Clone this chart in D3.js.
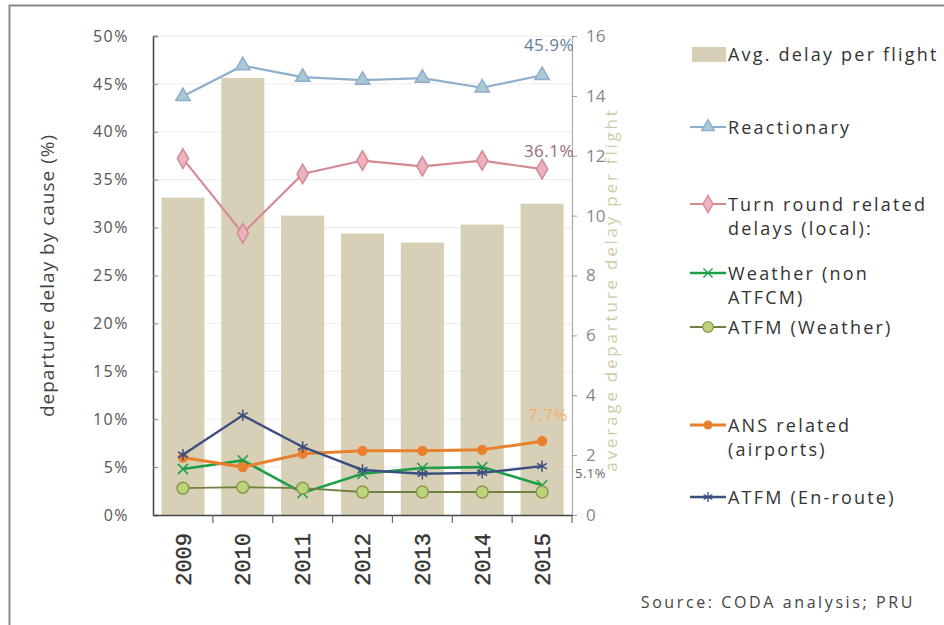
<!DOCTYPE html>
<html><head><meta charset="utf-8">
<script src="https://cdn.jsdelivr.net/npm/d3@7"></script>
<style>body{margin:0;background:#fff}svg{display:block}</style>
</head><body>
<svg id="c" width="944" height="625"></svg>
<script>
const years = ["2009","2010","2011","2012","2013","2014","2015"];
const avgDelay = [10.6, 14.6, 10.0, 9.4, 9.1, 9.7, 10.4];
const reactionary = [43.7, 46.9, 45.7, 45.4, 45.6, 44.6, 45.9];
const turnRound = [37.2, 29.4, 35.6, 37.0, 36.4, 37.0, 36.1];
const weatherNonATFCM = [4.8, 5.7, 2.3, 4.3, 4.9, 5.0, 3.1];
const atfmWeather = [2.8, 2.9, 2.8, 2.4, 2.4, 2.4, 2.4];
const ansAirports = [6.0, 5.0, 6.4, 6.7, 6.7, 6.8, 7.7];
const atfmEnroute = [6.3, 10.4, 7.1, 4.7, 4.3, 4.4, 5.1];
const leftTicks = [0,5,10,15,20,25,30,35,40,45,50];
const rightTicks = [0,2,4,6,8,10,12,14,16];

const svg = d3.select("#c");
const font = "'Open Sans', 'Liberation Sans', sans-serif";
// frame
svg.append("rect").attr("x",9.5).attr("y",5.5).attr("width",960).attr("height",700)
  .attr("fill","none").attr("stroke","#8a8a8a").attr("stroke-width",2);

const L = 153, R = 572, T = 36, B = 515;
const x = d3.scaleBand().domain(years).range([L,R]).padding(0);
const yL = d3.scaleLinear().domain([0,50]).range([B,T]);
const yR = d3.scaleLinear().domain([0,16]).range([B,T]);

// gridlines
svg.append("g").selectAll("line").data(leftTicks.slice(1)).join("line")
  .attr("x1",L).attr("x2",R).attr("y1",d=>yL(d)).attr("y2",d=>yL(d))
  .attr("stroke","#ececec").attr("stroke-width",1);

// bars
const bw = x.bandwidth()*0.72;
svg.append("g").selectAll("rect").data(avgDelay).join("rect")
  .attr("x",(d,i)=>x(years[i])+x.bandwidth()/2-bw/2)
  .attr("y",d=>yR(d)).attr("width",bw).attr("height",d=>B-yR(d))
  .attr("fill","#d8d0b6");

// axes
const axL = svg.append("g").attr("transform",`translate(${L},0)`)
  .call(d3.axisLeft(yL).tickValues(leftTicks).tickFormat(d=>d+"%").tickSize(-5).tickPadding(24));
axL.select(".domain").attr("stroke","#444").attr("stroke-width",1.5);
axL.selectAll(".tick line").attr("stroke","#888");
axL.selectAll("text").attr("font-family",font).attr("font-size",16).attr("letter-spacing",1.5).attr("fill","#555");

const axR = svg.append("g").attr("transform",`translate(${R},0)`)
  .call(d3.axisRight(yR).tickValues(rightTicks).tickSize(5).tickPadding(9));
axR.select(".domain").attr("stroke","#aaa").attr("stroke-width",1.2);
axR.selectAll(".tick line").attr("stroke","#999");
axR.selectAll("text").attr("font-family",font).attr("font-size",17).attr("fill","#888");

const axB = svg.append("g").attr("transform",`translate(0,${B})`)
  .call(d3.axisBottom(x).tickSize(0).tickPadding(0));
axB.select(".domain").attr("stroke","#444").attr("stroke-width",1.5);
axB.selectAll("text").attr("font-family","'Liberation Mono', monospace").attr("font-size",22)
  .attr("fill","#333").attr("stroke","#333").attr("stroke-width",0.4)
  .attr("transform","rotate(-90)").attr("text-anchor","end").attr("dy","0.35em").attr("x",-18).attr("y",0);
// boundary ticks
svg.append("g").selectAll("line").data(years.slice(1).concat(["end"])).join("line")
  .attr("x1",d=>d==="end"?R:x(d)).attr("x2",d=>d==="end"?R:x(d)).attr("y1",B).attr("y2",B+8)
  .attr("stroke","#666").attr("stroke-width",1.2);

// axis titles
svg.append("text").attr("transform",`translate(54,${(T+B)/2}) rotate(-90)`)
  .attr("text-anchor","middle").attr("font-family",font).attr("font-size",19).attr("letter-spacing",1)
  .attr("fill","#444").text("departure delay by cause (%)");
svg.append("text").attr("transform",`translate(617,${(T+B)/2+14}) rotate(-90)`)
  .attr("text-anchor","middle").attr("font-family",font).attr("font-size",17).attr("letter-spacing",2.8)
  .attr("fill","#d2caa8").text("average departure delay per flight");

const sym = (t)=> t || d3.symbolCross;
const series = [
  {name:["Reactionary"], data:reactionary, color:"#8eaecb", mfill:"#aac8d4", mstroke:"#8eaecb", sym:d3.symbolTriangle, size:90, width:2.2},
  {name:["Turn round related","delays (local):"], data:turnRound, color:"#d48a92", mfill:"#ecb2c0", mstroke:"#d48a92", sym:d3.symbolDiamond, size:110, width:2.2},
  {name:["Weather (non","ATFCM)"], data:weatherNonATFCM, color:"#1f9e48", mfill:"none", mstroke:"#1f9e48", sym:sym(d3.symbolX), size:70, width:2.6},
  {name:["ATFM (Weather)"], data:atfmWeather, color:"#6f8040", mfill:"#bcd47a", mstroke:"#8a9a50", sym:d3.symbolCircle, size:110, width:1.8},
  {name:["ANS related","(airports)"], data:ansAirports, color:"#e8802e", mfill:"#e8802e", mstroke:"#e8802e", sym:d3.symbolCircle, size:60, width:3},
  {name:["ATFM (En-route)"], data:atfmEnroute, color:"#3b4f80", mfill:"none", mstroke:"#3b4f80", sym:sym(d3.symbolAsterisk), size:90, width:2.4},
];
const line = d3.line().x((d,i)=>x(years[i])+x.bandwidth()/2).y(d=>yL(d));
series.forEach(s=>{
  const g = svg.append("g");
  g.append("path").attr("d",line(s.data)).attr("fill","none").attr("stroke",s.color).attr("stroke-width",s.width);
  g.selectAll("path.m").data(s.data).join("path").attr("class","m")
    .attr("transform",(d,i)=>`translate(${x(years[i])+x.bandwidth()/2},${yL(d)})`)
    .attr("d",d3.symbol().type(s.sym).size(s.size))
    .attr("fill",s.mfill).attr("stroke",s.mstroke).attr("stroke-width",1.5);
});

// data labels
const lbl = (txt,xx,yy,col,fs,anchor)=>svg.append("text").attr("x",xx).attr("y",yy).attr("font-family",font)
  .attr("font-size",fs||17).attr("letter-spacing",0.5).attr("fill",col).attr("text-anchor",anchor||"end").text(txt);
const xl = x("2015")+x.bandwidth()/2;
lbl(reactionary[6].toFixed(1)+"%", xl+32, yL(reactionary[6])-24, "#5f7f9e");
lbl(turnRound[6].toFixed(1)+"%", xl+32, yL(turnRound[6])-12, "#9a6d72");
lbl(ansAirports[6].toFixed(1)+"%", xl+26, yL(ansAirports[6])-20, "#f0b070");
lbl(atfmEnroute[6].toFixed(1)+"%", R+3, yL(atfmEnroute[6])+12, "#666", 13, "start");

// legend
const lg = svg.append("g").attr("font-family",font).attr("font-size",18).attr("letter-spacing",2.2).attr("fill","#333");
lg.append("rect").attr("x",692).attr("y",47).attr("width",34).attr("height",15).attr("fill","#d8d0b6");
lg.append("text").attr("x",728).attr("y",61).text("Avg. delay per flight");
const ly = [127, 204, 273, 327, 425, 497];
series.forEach((s,k)=>{
  const y0 = ly[k];
  lg.append("line").attr("x1",690).attr("x2",726).attr("y1",y0).attr("y2",y0).attr("stroke",s.color).attr("stroke-width",s.width);
  lg.append("path").attr("transform",`translate(708,${y0})`).attr("d",d3.symbol().type(s.sym).size(s.size*0.8))
    .attr("fill",s.mfill).attr("stroke",s.mstroke).attr("stroke-width",1.3);
  s.name.forEach((n,j)=>lg.append("text").attr("x",728).attr("y",y0+7+j*24).text(n));
});
svg.append("text").attr("x",915).attr("y",608).attr("text-anchor","end").attr("font-family",font)
  .attr("font-size",16).attr("letter-spacing",2.6).attr("fill","#444").text("Source: CODA analysis; PRU");
</script>
</body></html>
